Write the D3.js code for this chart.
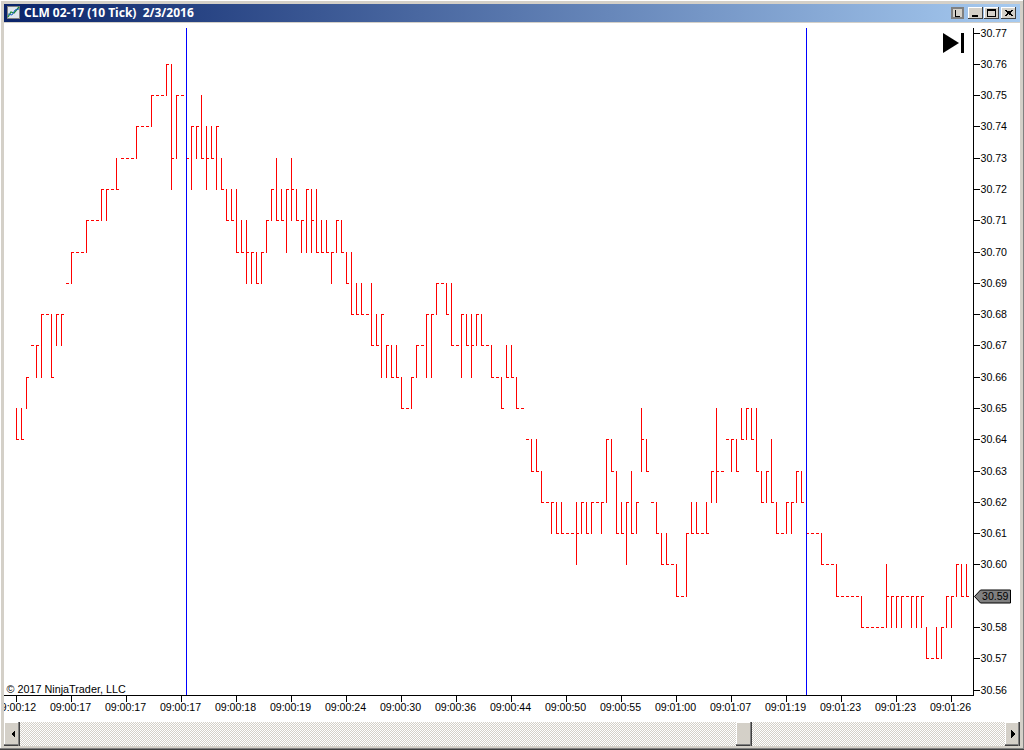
<!DOCTYPE html>
<html>
<head>
<meta charset="utf-8">
<script src="https://cdn.jsdelivr.net/npm/d3@7"></script>
<style>
html,body{margin:0;padding:0;background:#d4d0c8;overflow:hidden}
svg{display:block}
text{font-family:"Liberation Sans",Arial,sans-serif}
</style>
</head>
<body>
<div id="chart"></div>
<script>
// prices are stored as hundredths above the base price
const basePrice = 30;
const lows = [
64,64,65,67,66,66,68,66,67,67, 69,69,70,70,70,71,71,71,71,72,
72,73,73,73,73,74,74,74,75,75, 75,72,73,75,73,72,73,73,72,73,
72,72,71,71,70,70,69,69,69,69, 70,71,71,71,70,71,71,70,70,70,
70,70,70,69,70,70,69,68,68,68, 68,67,67,66,66,66,66,65,65,65,
66,67,66,66,68,69,68,67,67,66, 67,66,67,67,67,66,66,65,66,66,
65,65,64,63,63,62,62,61,61,61, 61,61,60,61,61,61,62,61,62,63,
61,61,60,61,61,63,63,62,61,60, 60,60,59,59,59,61,61,61,61,62,
62,63,64,63,63,64,64,64,63,62, 62,62,61,61,61,61,62,62,61,61,
61,60,60,60,59,59,59,59,59,58, 58,58,58,58,58,58,58,58,59,58,
58,58,57,57,57,57,58,58,59,59, 59];
const highs = [
65,65,66,67,67,68,68,68,68,68, 69,70,70,70,71,71,71,72,72,72,
73,73,73,73,74,74,74,75,75,75, 76,76,75,75,73,74,74,75,74,74,
74,73,72,72,72,71,71,70,70,70, 71,72,73,72,72,73,72,71,72,72,
72,71,71,70,71,71,70,70,69,69, 68,69,68,68,67,67,67,66,65,66,
67,67,68,68,69,69,69,69,67,68, 68,68,68,68,67,67,66,66,67,67,
66,65,64,64,64,63,62,62,62,62, 61,61,62,62,62,62,62,62,64,64,
63,62,62,63,62,65,64,62,62,61, 61,60,60,59,61,62,62,61,62,63,
65,63,64,64,64,65,65,65,65,63, 63,64,62,61,62,62,63,63,61,61,
61,61,60,60,60,59,59,59,59,59, 58,58,58,58,60,59,59,59,59,59,
59,59,58,57,58,58,59,59,60,60, 60];
const closes = [
64,64,66,67,67,68,68,66,68,68, 69,70,70,70,71,71,71,72,72,72,
72,73,73,73,74,74,74,75,75,75, 76,73,75,75,73,74,74,73,73,73,
74,72,71,71,70,70,70,70,69,70, 71,72,71,71,72,72,71,71,72,71,
70,70,70,70,71,70,69,68,68,68, 68,67,67,68,67,66,66,65,65,66,
67,67,68,68,69,69,68,67,67,68, 67,67,68,67,67,66,66,65,66,66,
65,65,64,63,63,62,62,62,61,61, 61,61,61,62,61,62,62,62,64,63,
61,61,62,61,62,64,63,62,61,60, 60,60,59,59,61,61,61,61,61,63,
63,63,64,64,63,64,65,64,63,62, 63,62,61,61,62,62,63,62,61,61,
61,60,60,60,59,59,59,59,59,58, 58,58,58,58,59,59,59,59,59,59,
59,59,57,57,57,58,59,59,60,59, 59];
const priceTicks = [77,76,75,74,73,72,71,70,69,68,67,66,65,64,63,62,61,60,58,57,56];
const timeTicks = [0,11,22,33,44,55,66,77,88,99,110,121,132,143,154,165,176,187];
const timeLabels = ["09:00:12","09:00:17","09:00:17","09:00:17","09:00:18","09:00:19","09:00:24","09:00:30","09:00:36","09:00:44","09:00:50","09:00:55","09:01:00","09:01:07","09:01:19","09:01:23","09:01:23","09:01:26"];
const sessionBreaks = [34,158];
const lastClose = 59;
const titleText = "CLM 02-17 (10 Tick)  2/3/2016";
const creditText = "\u00a9 2017 NinjaTrader, LLC";

const W = 1024, H = 750;
const price = c => basePrice + c/100;
const x = d3.scaleLinear().domain([0,190]).range([16,966]);
const y = d3.scaleLinear().domain([price(56),price(77)]).range([689.6,32.6]);
const px = v => Math.round(x(v))+0.5;
const py = c => Math.round(y(price(c)))+0.5;

const svg = d3.select("#chart").append("svg").attr("width",W).attr("height",H);
const defs = svg.append("defs");
const grad = defs.append("linearGradient").attr("id","title");
grad.append("stop").attr("offset","0").attr("stop-color","#0a246a");
grad.append("stop").attr("offset","1").attr("stop-color","#a6caf0");
const pat = defs.append("pattern").attr("id","check").attr("width",2).attr("height",2).attr("patternUnits","userSpaceOnUse");
pat.append("rect").attr("width",2).attr("height",2).attr("fill","#d4d0c8");
pat.append("rect").attr("width",1).attr("height",1).attr("fill","#fff");
pat.append("rect").attr("x",1).attr("y",1).attr("width",1).attr("height",1).attr("fill","#fff");

// plot background
svg.append("rect").attr("x",4).attr("y",23).attr("width",1016).attr("height",699).attr("fill","#fff");

const plot = svg.append("g").attr("shape-rendering","crispEdges");

// bars: high-low stem and close tick
plot.append("g").selectAll("line").data(d3.range(lows.length).filter(i=>highs[i]>lows[i])).join("line")
  .attr("x1",px).attr("x2",px)
  .attr("y1",i=>py(highs[i])-0.5).attr("y2",i=>py(lows[i])+0.5)
  .attr("stroke","#ff0000");
plot.append("g").selectAll("line").data(d3.range(closes.length)).join("line")
  .attr("x1",i=>px(i)-0.5).attr("x2",i=>px(i)+2.5)
  .attr("y1",i=>py(closes[i])).attr("y2",i=>py(closes[i]))
  .attr("stroke","#ff0000");

// session break lines
plot.append("g").selectAll("line").data(sessionBreaks).join("line")
  .attr("x1",px).attr("x2",px).attr("y1",28).attr("y2",695)
  .attr("stroke","#0000ff");

// axes
const yAxis = d3.axisRight(y)
  .tickValues(priceTicks.map(price)).tickFormat(d3.format(".2f")).tickSize(6).tickPadding(1);
const gy = svg.append("g").attr("transform","translate(973.5,0)").call(yAxis);
gy.select(".domain").remove();
gy.selectAll(".tick").attr("transform",d=>`translate(0,${Math.round(y(d))+0.5})`);
gy.selectAll("line").attr("shape-rendering","crispEdges").attr("stroke","#000");
gy.selectAll("text").attr("font-size",10.6).attr("font-family",null).attr("fill","#000").attr("dy","0.3em");
svg.append("line").attr("x1",973.5).attr("x2",973.5).attr("y1",28).attr("y2",695).attr("stroke","#000").attr("shape-rendering","crispEdges");

const xAxis = d3.axisBottom(x).tickValues(timeTicks).tickFormat((d,i)=>timeLabels[i]).tickSize(6).tickPadding(2);
const gx = svg.append("g").attr("transform","translate(0,695.5)").call(xAxis);
gx.select(".domain").remove();
gx.selectAll(".tick").attr("transform",d=>`translate(${px(d)},0)`);
gx.selectAll("line").attr("shape-rendering","crispEdges").attr("stroke","#000");
gx.selectAll("text").attr("font-size",10.6).attr("font-family",null).attr("fill","#000").attr("dx",-1);
svg.append("line").attr("x1",4).attr("x2",974).attr("y1",695.5).attr("y2",695.5).attr("stroke","#000").attr("shape-rendering","crispEdges");

// last price marker
const my = py(lastClose);
svg.append("path").attr("d",`M974.5,${my} L980.5,${my-6.5} H1010.5 V${my+6.5} H980.5 Z`).attr("fill","#808080").attr("stroke","#000");
svg.append("text").attr("x",982).attr("y",my).attr("dy","0.35em").attr("font-size",10.6).attr("fill","#000").text(d3.format(".2f")(price(lastClose)));

// credit
svg.append("text").attr("x",6.5).attr("y",692.5).attr("font-size",10.8).attr("fill","#000").text(creditText);

// "go to end" glyph
svg.append("path").attr("d","M943,33 L959,43 L943,53 Z").attr("fill","#000");
svg.append("rect").attr("x",961).attr("y",33).attr("width",3).attr("height",20).attr("fill","#000");

// window chrome
const chrome = svg.append("g").attr("shape-rendering","crispEdges");
chrome.append("rect").attr("x",0).attr("y",0).attr("width",4).attr("height",H).attr("fill","#d4d0c8");
chrome.append("rect").attr("x",0).attr("y",0).attr("width",1).attr("height",H).attr("fill","#fff");
chrome.append("rect").attr("x",0).attr("y",0).attr("width",W).attr("height",1).attr("fill","#fff");
chrome.append("rect").attr("x",4).attr("y",4).attr("width",1016).attr("height",18).attr("fill","url(#title)");
chrome.append("rect").attr("x",1023).attr("y",0).attr("width",1).attr("height",H).attr("fill","#808080");
chrome.append("rect").attr("x",0).attr("y",748).attr("width",W).attr("height",1).attr("fill","#808080");
chrome.append("rect").attr("x",0).attr("y",749).attr("width",W).attr("height",1).attr("fill","#404040");

// title icon and text
chrome.append("rect").attr("x",7.5).attr("y",6.5).attr("width",12).attr("height",12).attr("fill","#dfe6ee").attr("stroke","#808080");
svg.append("path").attr("d","M8,17 L11,12 L14,13 L19,7").attr("fill","none").attr("stroke","#1c8a3a").attr("stroke-width",1.3);
svg.append("path").attr("d","M8,14 L12,15 L15,10 L19,9").attr("fill","none").attr("stroke","#2060c0");
svg.append("text").attr("x",24).attr("y",17).attr("font-size",12).attr("font-weight","bold").attr("fill","#fff")
  .style("font-family","'Noto Sans'").style("white-space","pre").text(titleText);

// window buttons
function button(bx,w,draw,sunken){
  const g = chrome.append("g").attr("transform",`translate(${bx},7)`);
  g.append("rect").attr("width",w).attr("height",12).attr("fill",sunken?"#808080":"#fff");
  g.append("rect").attr("x",sunken?2:1).attr("y",sunken?2:1).attr("width",w-(sunken?4:2)).attr("height",sunken?8:10).attr("fill","#d4d0c8");
  if(!sunken){
    g.append("rect").attr("y",11).attr("width",w).attr("height",1).attr("fill","#404040");
    g.append("rect").attr("x",w-1).attr("width",1).attr("height",12).attr("fill","#404040");
  }
  draw(g);
}
button(951,13,g=>g.append("path").attr("d","M4.5,2.5 V9.5 H9").attr("fill","none").attr("stroke","#000"),true);
button(968,15,g=>g.append("rect").attr("x",4).attr("y",8).attr("width",6).attr("height",2).attr("fill","#000"));
button(984,15,g=>g.append("path").attr("d","M3.5,2.5 H11.5 V9.5 H3.5 Z M3.5,3.5 H11.5").attr("fill","none").attr("stroke","#000"));
button(1001,15,g=>g.append("path").attr("d","M4,3 L11,9 M5,3 L12,9 M11,3 L4,9 M12,3 L5,9").attr("stroke","#000"));

// scrollbar
chrome.append("rect").attr("x",4).attr("y",722).attr("width",1016).attr("height",24).attr("fill","url(#check)");
function scrollBtn(bx,w){
  const g = chrome.append("g").attr("transform",`translate(${bx},722)`);
  g.append("rect").attr("width",w).attr("height",24).attr("fill","#d4d0c8");
  g.append("rect").attr("width",w).attr("height",1).attr("fill","#fff");
  g.append("rect").attr("width",1).attr("height",24).attr("fill","#fff");
  g.append("rect").attr("y",22).attr("width",w).attr("height",1).attr("fill","#808080");
  g.append("rect").attr("y",23).attr("width",w).attr("height",1).attr("fill","#404040");
  g.append("rect").attr("x",w-2).attr("width",1).attr("height",24).attr("fill","#808080");
  g.append("rect").attr("x",w-1).attr("width",1).attr("height",24).attr("fill","#404040");
  return g;
}
scrollBtn(4,16).append("path").attr("d","M11,8 L7,12 L11,16 Z").attr("fill","#000");
scrollBtn(736,16);
scrollBtn(1005,15).append("path").attr("d","M6,8 L10,12 L6,16 Z").attr("fill","#000");
</script>
</body>
</html>
